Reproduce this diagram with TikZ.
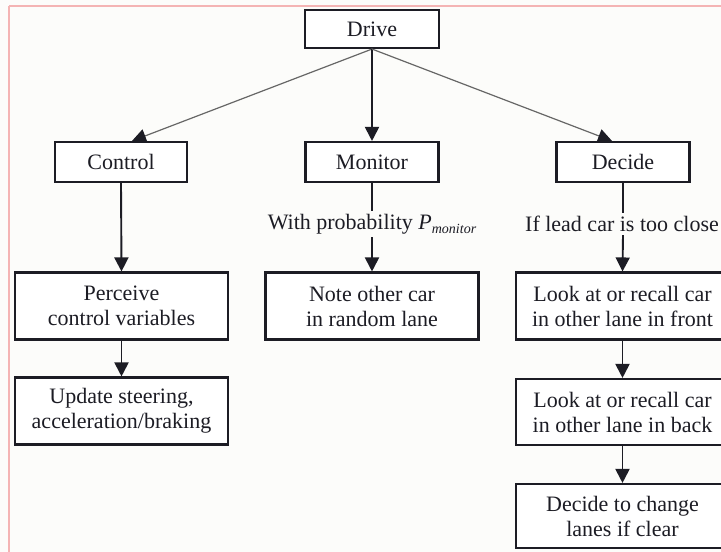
\documentclass[tikz,border=0pt]{standalone}
\usepackage{fontspec}
\setmainfont{Liberation Serif}
\usetikzlibrary{arrows.meta}
\definecolor{bgc}{HTML}{FCFCFA}
\definecolor{pinkline}{HTML}{F4B4B4}
\definecolor{ink}{HTML}{1C1C24}
\tikzset{
  box/.style={draw=ink, line width=2.1pt, fill=white, text=ink, align=center,
    font=\fontsize{22}{25}\selectfont, inner sep=0pt, minimum width=213pt, minimum height=67pt},
  smallbox/.style={box, minimum width=133pt, minimum height=40pt},
  lbl/.style={text=ink, font=\fontsize{22}{25}\selectfont, inner sep=3pt},
  conn/.style={draw=ink, line width=1.9pt, -{Triangle[length=14pt,width=14pt]}},
  plain/.style={draw=ink, line width=1.9pt},
  diag/.style={draw=black!60, line width=1.2pt, -{Triangle[length=14pt,width=14pt,color=ink,fill=ink]}}
}
\begin{document}
\begin{tikzpicture}[x=1pt,y=-1pt]
\fill[bgc] (0,0) rectangle (721,552);
\useasboundingbox (0,0) rectangle (721,552);
\clip (0,0) rectangle (721,552);
\draw[pinkline, line width=1.5pt] (9,6) -- (721,6);
\draw[pinkline, line width=1.5pt] (9,6) -- (9,552);

\node[smallbox, minimum width=134pt, minimum height=38pt] (drive) at (372,29) {Drive};
\node[smallbox, minimum width=132pt] (control) at (121,162) {Control};
\node[smallbox] (monitor) at (372,162) {Monitor};
\node[smallbox] (decide) at (623,162) {Decide};

\node[box] (perceive) at (121.5,306) {Perceive\\control variables};
\node[box] (update) at (121.5,411) {Update steering,\\acceleration/braking};
\node[box] (note) at (372,306) {Note other car\\in random lane};
\node[box] (front) at (622.5,306) {Look at or recall car\\in other lane in front};
\node[box, minimum height=66pt] (back) at (622.5,412) {Look at or recall car\\in other lane in back};
\node[box, minimum height=64pt] (change) at (622.5,516) {Decide to change\\lanes if clear};

\node[lbl] (mlabel) at (372,224) {With probability \textit{P}\raisebox{-0.45ex}{\fontsize{14}{14}\selectfont\itshape monitor}};
\node[lbl] (dlabel) at (622,224) {If lead car is too close};

\draw[diag] (drive.south) -- ([xshift=11pt]control.north);
\draw[conn] (drive.south) -- (monitor.north);
\draw[diag] (drive.south) -- ([xshift=-11pt]decide.north);

\draw[conn] (control.south) -- (perceive.north);
\draw[conn] (perceive.south) -- (update.north);

\draw[plain] (monitor.south) -- (monitor.south |- mlabel.north);
\draw[conn] (monitor.south |- mlabel.south) -- (note.north);

\draw[plain] (decide.south) -- (decide.south |- dlabel.north);
\draw[conn] (decide.south |- dlabel.south) -- (front.north);
\draw[conn] (front.south) -- (back.north);
\draw[conn] (back.south) -- (change.north);
\end{tikzpicture}
\end{document}
